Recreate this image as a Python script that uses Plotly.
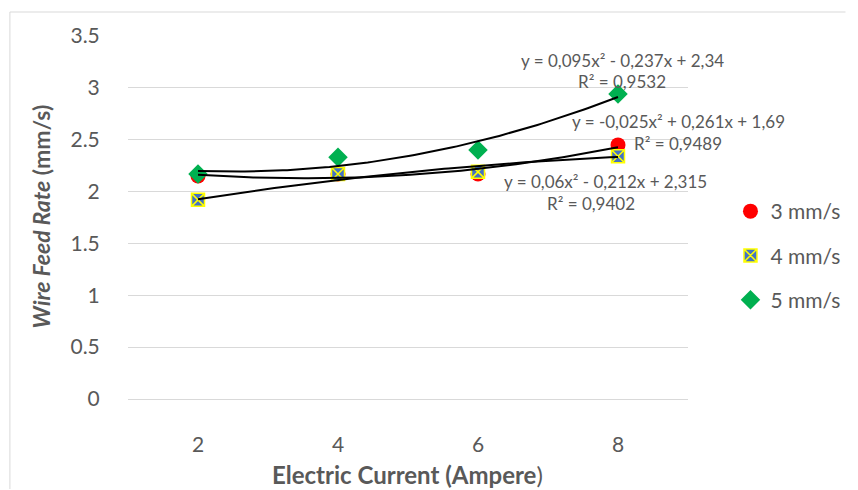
import numpy as np
import plotly.graph_objects as go

# ---- data ----
categories = ["2", "4", "6", "8"]
series_names = ["3 mm/s", "4 mm/s", "5 mm/s"]
vals_3 = [2.15, 2.17, 2.17, 2.45]
vals_4 = [1.92, 2.17, 2.19, 2.34]
vals_5 = [2.17, 2.33, 2.40, 2.94]
# polynomial trendline coefficients (a, b, c) as shown in chart labels, x = category index 1..4
coef_3 = [0.06, -0.212, 2.315]
coef_4 = [-0.025, 0.261, 1.69]
coef_5 = [0.095, -0.237, 2.34]
eq_3 = ["y = 0,06x² - 0,212x + 2,315", "R² = 0,9402"]
eq_4 = ["y = -0,025x² + 0,261x + 1,69", "R² = 0,9489"]
eq_5 = ["y = 0,095x² - 0,237x + 2,34", "R² = 0,9532"]
y_ticks = [0, 0.5, 1, 1.5, 2, 2.5, 3, 3.5]

W, H = 858, 490
L, R, T, B = 128, 697, 36, 399
FONT = "Lato"
GRAY = "#595959"

idx = np.arange(1, len(categories) + 1)

def px2paper(px, py):
    return (px - L) / (R - L), (B - py) / (B - T)

fig = go.Figure()

styles = [
    dict(symbol="circle", color="#FF0000", size=15, line=dict(width=0)),
    dict(symbol="square-x", color="#4472C4", size=13, line=dict(color="#FFFF00", width=1.5)),
    dict(symbol="diamond", color="#00B050", size=15, line=dict(width=0)),
]
for name, vals, st in zip(series_names, [vals_3, vals_4, vals_5], styles):
    fig.add_trace(go.Scatter(x=idx, y=vals, mode="markers", name=name, marker=st,
                             legendgroup=name))

xs = np.linspace(1, len(categories), 100)
for coef in [coef_3, coef_4, coef_5]:
    fig.add_trace(go.Scatter(x=xs, y=np.polyval(coef, xs), mode="lines",
                             line=dict(color="black", width=2), showlegend=False,
                             hoverinfo="skip"))

# equation annotations (centre px, line py)
eq_pos = [(eq_5, 630, 60, 630, 81), (eq_4, 687, 122, 687, 143), (eq_3, 613, 182, 598, 203)]
anns = []
for eq, x1, y1, x2, y2 in eq_pos:
    for txt, (xp, yp) in zip(eq, [(x1, y1), (x2, y2)]):
        px_, py_ = px2paper(xp, yp)
        anns.append(dict(x=px_, y=py_, xref="paper", yref="paper", text=txt, showarrow=False,
                         xanchor="center", yanchor="middle",
                         font=dict(family=FONT, size=17, color=GRAY)))

# axis titles
ax, ay = px2paper(412, 475)
anns.append(dict(x=ax, y=ay, xref="paper", yref="paper", showarrow=False,
                 text="<b>Electric Current (Ampere</b>)", xanchor="center", yanchor="middle",
                 font=dict(family=FONT, size=24, color=GRAY)))
tx, ty = px2paper(40, 216)
anns.append(dict(x=tx, y=ty, xref="paper", yref="paper", showarrow=False, textangle=-90,
                 text="<b><i>Wire Feed Rate</i> (mm/s)</b>", xanchor="center", yanchor="middle",
                 font=dict(family=FONT, size=23, color=GRAY)))

# outer chart border (left + top)
bx0, by0 = px2paper(8, 12)
bx1, _ = px2paper(857, 12)
_, by1 = px2paper(8, 489)
shapes = [
    dict(type="line", xref="paper", yref="paper", x0=bx0, y0=by0, x1=bx1, y1=by0,
         line=dict(color="#D9D9D9", width=1)),
    dict(type="line", xref="paper", yref="paper", x0=bx0, y0=by0, x1=bx0, y1=by1,
         line=dict(color="#D9D9D9", width=1)),
]

lx, ly = px2paper(857, 191)
fig.update_layout(
    width=W, height=H,
    margin=dict(l=L, r=W - R, t=T, b=H - B, pad=0),
    paper_bgcolor="white", plot_bgcolor="white",
    font=dict(family=FONT, color=GRAY),
    showlegend=True,
    legend=dict(x=lx, y=ly, xref="paper", yref="paper", xanchor="right", yanchor="top",
                font=dict(family=FONT, size=21, color=GRAY), tracegroupgap=14,
                itemwidth=30, bgcolor="rgba(0,0,0,0)"),
    xaxis=dict(range=[0.5, len(categories) + 0.5], tickvals=list(idx), ticktext=categories,
               showgrid=False, zeroline=False, showline=True, linecolor="#D9D9D9", linewidth=1,
               ticks="outside", ticklen=27, tickcolor="rgba(0,0,0,0)",
               tickfont=dict(family=FONT, size=21, color=GRAY)),
    yaxis=dict(range=[0, 3.5], tickvals=y_ticks, ticktext=[f"{v:g}" for v in y_ticks],
               showgrid=True, gridcolor="#D9D9D9", gridwidth=1, zeroline=False, showline=False,
               ticks="outside", ticklen=23, tickcolor="rgba(0,0,0,0)",
               tickfont=dict(family=FONT, size=21, color=GRAY)),
    annotations=anns, shapes=shapes,
)

fig.write_html("out.html", config={"displayModeBar": False},
               post_script="document.body.style.margin='0px';")
